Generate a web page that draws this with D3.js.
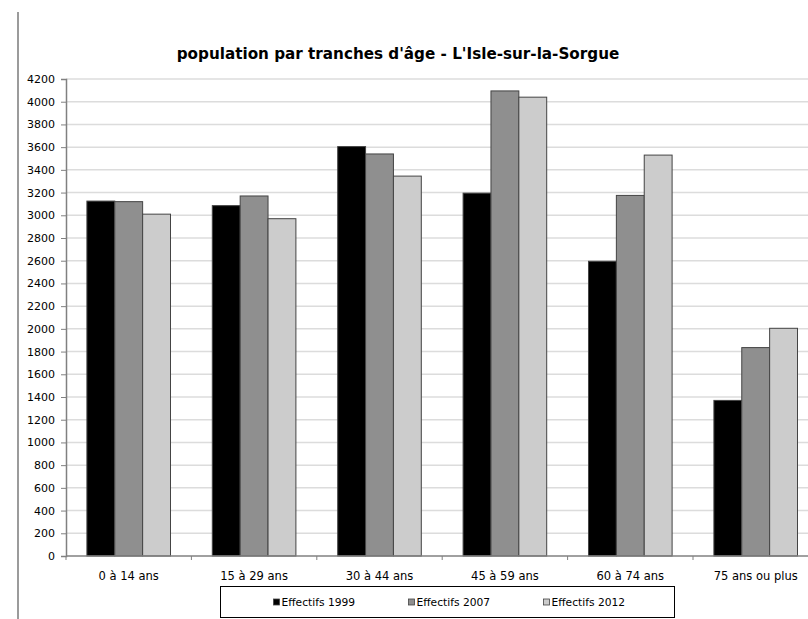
<!DOCTYPE html>
<html>
<head>
<meta charset="utf-8">
<script src="https://cdn.jsdelivr.net/npm/d3@7"></script>
<style>
  body { margin: 0; background: #fff; }
  text { fill: #000; }
  .title { font-family: "DejaVu Sans", sans-serif; font-weight: bold; font-size: 15.2px; }
  .y.axis text { font-family: "DejaVu Sans", sans-serif; font-size: 11px; }
  .x.axis text { font-family: "DejaVu Sans Condensed", "DejaVu Sans", sans-serif; font-size: 12.8px; }
  .legend text { font-family: "DejaVu Sans", sans-serif; font-size: 10.7px; }
</style>
</head>
<body>
<div id="chart"></div>
<script>
// data
const categories = ["0 à 14 ans", "15 à 29 ans", "30 à 44 ans", "45 à 59 ans", "60 à 74 ans", "75 ans ou plus"];
const seriesNames = ["Effectifs 1999", "Effectifs 2007", "Effectifs 2012"];
const values1999 = [3125, 3085, 3605, 3195, 2595, 1370];
const values2007 = [3120, 3170, 3540, 4095, 3175, 1835];
const values2012 = [3010, 2970, 3345, 4040, 3530, 2005];
const yTicks = d3.range(0, 4201, 200);
const titleText = "population par tranches d'âge - L'Isle-sur-la-Sorgue";

const colors = ["#000000", "#8f8f8f", "#cccccc"];
const seriesValues = [values1999, values2007, values2012];

// build table for d3
const table = categories.map((c, i) => ({
    cat: c,
    vals: seriesNames.map((s, j) => ({ key: s, value: seriesValues[j][i] }))
}));

const width = 808, height = 619;
const margin = { top: 79, left: 66, bottom: 556 };
const catWidth = 125.4;

const svg = d3.select("#chart").append("svg")
    .attr("width", width)
    .attr("height", height);

// outer frame line on the left (the chart is cropped)
svg.append("line")
    .attr("x1", 18).attr("x2", 18)
    .attr("y1", 12).attr("y2", height)
    .attr("stroke", "#7a7a7a")
    .attr("stroke-width", 1.5);

svg.append("text")
    .attr("class", "title")
    .attr("x", 398)
    .attr("y", 59)
    .attr("text-anchor", "middle")
    .text(titleText);

const x0 = d3.scaleBand()
    .domain(categories)
    .range([margin.left, margin.left + catWidth * categories.length])
    .paddingInner(0).paddingOuter(0);

// excel gap width 150%: each bar = cat / 4.5
const w = x0.bandwidth() / 4.5;
const x1 = d3.scaleBand()
    .domain(seriesNames)
    .range([0.75 * w, 3.75 * w]);

const y = d3.scaleLinear()
    .domain([0, 4200])
    .range([margin.bottom, margin.top]);

// gridlines
svg.append("g")
    .selectAll("line")
    .data(yTicks.filter(d => d > 0))
    .enter()
    .append("line")
    .attr("x1", margin.left)
    .attr("x2", width)
    .attr("y1", d => y(d))
    .attr("y2", d => y(d))
    .attr("stroke", "#dcdcdc")
    .attr("stroke-width", 1.5);

// bars
const groups = svg.append("g")
    .selectAll("g")
    .data(table)
    .enter()
    .append("g")
    .attr("transform", d => `translate(${x0(d.cat)},0)`);

groups.selectAll("rect")
    .data(d => d.vals)
    .enter()
    .append("rect")
    .attr("x", d => x1(d.key))
    .attr("width", x1.bandwidth())
    .attr("y", d => y(d.value))
    .attr("height", d => y(0) - y(d.value))
    .attr("fill", (d, i) => colors[i])
    .attr("stroke", "#444")
    .attr("stroke-width", 1);

// y axis
const yAxis = d3.axisLeft(y)
    .tickValues(yTicks)
    .tickFormat(d3.format("d"))
    .tickSize(5)
    .tickPadding(6);

const gy = svg.append("g")
    .attr("class", "y axis")
    .attr("transform", `translate(${margin.left},0)`)
    .call(yAxis);
gy.select(".domain").attr("stroke", "#808080").attr("stroke-width", 1.5);
gy.selectAll(".tick line").attr("stroke", "#808080");

// x axis, ticks between categories
const gx = svg.append("g")
    .attr("class", "x axis")
    .attr("transform", `translate(0,${margin.bottom})`);
gx.append("line")
    .attr("x1", margin.left).attr("x2", width)
    .attr("stroke", "#808080").attr("stroke-width", 1.5);
gx.selectAll("line.tick")
    .data(categories)
    .enter()
    .append("line")
    .attr("class", "tick")
    .attr("x1", d => x0(d)).attr("x2", d => x0(d))
    .attr("y1", 0).attr("y2", 4)
    .attr("stroke", "#808080");
gx.selectAll("text")
    .data(categories)
    .enter()
    .append("text")
    .attr("x", d => x0(d) + x0.bandwidth() / 2)
    .attr("y", 24)
    .attr("text-anchor", "middle")
    .text(d => d);

// legend
const legend = svg.append("g")
    .attr("class", "legend")
    .attr("transform", "translate(220.5,586.5)");
legend.append("rect")
    .attr("width", 454).attr("height", 31)
    .attr("fill", "#fff")
    .attr("stroke", "#000").attr("stroke-width", 1);

const items = legend.selectAll("g.item")
    .data(seriesNames)
    .enter()
    .append("g")
    .attr("class", "item")
    .attr("transform", (d, i) => `translate(${53 + i * 135},0)`);
items.append("rect")
    .attr("x", 0).attr("y", 12.5)
    .attr("width", 6).attr("height", 6)
    .attr("fill", (d, i) => colors[i])
    .attr("stroke", "#444").attr("stroke-width", 0.8);
items.append("text")
    .attr("x", 8).attr("y", 19.5)
    .text(d => d);
</script>
</body>
</html>
